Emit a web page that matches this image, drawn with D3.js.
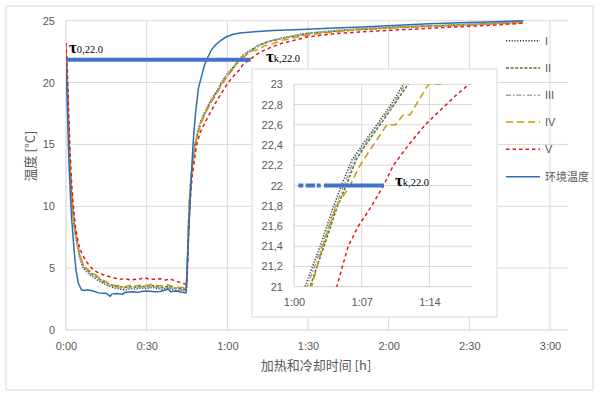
<!DOCTYPE html>
<html><head><meta charset="utf-8">
<script src="https://cdn.jsdelivr.net/npm/d3@7/dist/d3.min.js"></script>
<style>body{margin:0;background:#fff} svg text{font-family:"Liberation Sans",Arial,sans-serif}</style>
</head><body><svg id="c" width="600" height="395"></svg>
<script>
// ---------- data (time in minutes, temperature in °C) ----------
const seriesNames = ["I","II","III","IV","V","环境温度"];
const sI = [[0,22.9],[0.5,20.2],[1,16.3],[1.5,13.2],[2.2,10.5],[3,8.5],[3.7,7.4],[5,5.9],[6.4,5.0],[8,4.6],[10,4.3],[12,4.0],[14,3.75],[16,3.55],[18,3.4],[20,3.3],[22,3.25],[24,3.35],[26,3.3],[28,3.4],[30,3.35],[32,3.45],[34,3.35],[36,3.3],[38,3.4],[40,3.25],[42,3.2],[44.8,3.2],
 [45.2,6],[45.6,9],[46,10.9],[46.5,12.4],[47,13.4],[48,15.1],[49,16],[50,16.8],[52,17.8],[54,18.6],[56,19.3],[57.5,19.9],[59,20.4],[60,20.7],[61.14,21.0],[62.7,21.4],[64.07,21.79],[64.9,22.0],[65.97,22.25],[67.2,22.42],[68.56,22.6],[70.1,22.81],[71.3,23.0],[75,23.3],[80,23.6],[90,24.0],[100,24.2],[110,24.35],[120,24.45],[130,24.55],[140,24.62],[150,24.7],[160,24.8],[170,24.92]];
const sII = [[0,22.8],[0.5,20.0],[1,16.1],[1.5,13.1],[2.2,10.5],[3,8.6],[3.7,7.6],[5,6.1],[6.4,5.2],[8,4.8],[10,4.5],[12,4.2],[14,3.9],[16,3.7],[18,3.55],[20,3.5],[22,3.45],[24,3.5],[26,3.45],[28,3.55],[30,3.5],[32,3.6],[34,3.5],[36,3.45],[38,3.55],[40,3.4],[42,3.35],[44.8,3.3],
 [45.2,5.8],[45.6,8.8],[46,10.7],[46.5,12.2],[47,13.3],[48,15.0],[49,15.9],[50,16.7],[52,17.7],[54,18.5],[56,19.2],[57.8,19.9],[59.3,20.4],[60.4,20.7],[61.66,21.0],[63.1,21.4],[64.5,21.8],[65.4,22.0],[66.4,22.25],[67.6,22.43],[68.9,22.6],[70.5,22.82],[71.8,23.0],[75,23.28],[80,23.55],[90,23.95],[100,24.15],[110,24.3],[120,24.42],[130,24.52],[140,24.6],[150,24.68],[160,24.78],[170,24.9]];
const sIII = [[0,23.0],[0.5,20.1],[1,16.2],[1.5,13.1],[2.2,10.5],[3,8.5],[3.7,7.5],[5,6.0],[6.4,5.1],[8,4.7],[10,4.4],[12,4.1],[14,3.82],[16,3.62],[18,3.47],[20,3.4],[22,3.35],[24,3.42],[26,3.38],[28,3.48],[30,3.42],[32,3.52],[34,3.42],[36,3.38],[38,3.47],[40,3.33],[42,3.28],[44.8,3.25],
 [45.2,5.9],[45.6,8.9],[46,10.8],[46.5,12.3],[47,13.35],[48,15.05],[49,15.95],[50,16.75],[52,17.75],[54,18.55],[56,19.25],[57.6,19.9],[59.1,20.4],[60.2,20.7],[61.35,21.0],[62.9,21.4],[64.3,21.8],[65.15,22.0],[66.2,22.25],[67.4,22.43],[68.7,22.6],[70.3,22.81],[71.5,23.0],[75,23.3],[80,23.58],[90,23.98],[100,24.18],[110,24.33],[120,24.44],[130,24.54],[140,24.61],[150,24.69],[160,24.79],[170,24.91]];
const sIV = [[0,22.7],[0.5,20.0],[1,16.2],[1.5,13.2],[2.2,10.6],[3,8.8],[3.7,7.8],[5,6.2],[6.4,5.25],[8,4.9],[10.2,4.58],[12,4.3],[13.9,4.04],[15.5,3.8],[17.6,3.64],[20,3.55],[22,3.5],[24,3.62],[26,3.55],[28,3.65],[30,3.6],[32,3.7],[34,3.6],[36,3.55],[38,3.65],[40,3.5],[42,3.45],[44.8,3.4],
 [45.2,5.7],[45.6,8.6],[46,10.6],[46.5,12.1],[47,13.2],[48,14.9],[49,15.8],[50,16.6],[52,17.6],[54,18.4],[56,19.1],[58,19.85],[59.5,20.35],[60.6,20.7],[61.83,21.0],[62.97,21.4],[63.66,21.6],[64.4,21.8],[65.8,22.0],[66.83,22.2],[68.2,22.4],[69.6,22.6],[70.5,22.6],[71.3,22.7],[72,22.7],[73.9,23.0],[75.1,23.0],[80,23.4],[90,23.85],[100,24.1],[110,24.28],[120,24.4],[130,24.5],[140,24.57],[150,24.65],[160,24.75],[170,24.85]];
const sV = [[0,23.2],[0.5,21],[1,17.5],[1.5,14.5],[2,12.2],[2.5,10.6],[3.5,8.3],[4.6,7.0],[6,6.1],[7.7,5.5],[9.5,5.0],[11.4,4.7],[14,4.45],[16.4,4.3],[18,4.2],[20,4.1],[22,4.15],[24,4.05],[26,4.1],[28,4.15],[29,4.24],[31,4.1],[33,4.1],[35,4.15],[37,4.05],[39,4.1],[41,3.95],[43.6,3.75],[44.9,3.7],
 [45.3,5.5],[45.7,8.3],[46,9.8],[46.5,11.4],[47,12.5],[48,14.1],[48.6,15.0],[50,16.0],[52,16.9],[53.5,17.5],[56,18.5],[58,19.2],[60.3,20.0],[62,20.45],[63.2,20.75],[64.42,21.0],[65.6,21.4],[66.66,21.6],[68.04,21.8],[69.25,22.0],[70.28,22.2],[71.83,22.4],[73.56,22.6],[76.84,22.9],[80,23.15],[90,23.7],[100,23.95],[110,24.1],[120,24.22],[130,24.32],[140,24.45],[150,24.55],[160,24.65],[170,24.8]];
const sAmb = [[0,21.4],[0.5,18],[1,14],[1.7,10.6],[2.1,9],[3,6.5],[3.7,4.85],[4.6,3.78],[5.8,3.23],[7,3.2],[8,3.25],[10.2,3.15],[12,3.0],[15,2.95],[16.4,2.72],[17,2.9],[19,2.95],[21,2.9],[22,3.05],[25,3.1],[27,3.05],[28,3.12],[30,3.15],[33,3.1],[35,3.12],[38,3.3],[39,3.1],[41,3.15],[43,3.05],[44.6,3.0],
 [45.1,5.1],[45.6,7.8],[46.1,10],[46.7,12.8],[47.3,15.2],[48.2,17.6],[49.3,19.6],[50.4,20.5],[51.5,21.4],[52.5,21.95],[54,22.6],[55.4,23.0],[57.5,23.4],[59.7,23.7],[62,23.88],[64.7,24.0],[70,24.1],[77,24.2],[89.5,24.3],[100,24.4],[110,24.5],[120,24.6],[135,24.75],[150,24.85],[160,24.92],[170,25.0]];
const tauMain = [[0,21.85],[68.7,21.85]];
const tauInset = [[60,22],[69.3,22]];
const xTicksMain = [0,30,60,90,120,150,180];
const yTicksMain = [0,5,10,15,20,25];
const xTicksInset = [60,67,74];
const yTicksInset = [21,21.2,21.4,21.6,21.8,22,22.2,22.4,22.6,22.8,23];

// ---------- styles ----------
const allSeries = [sI,sII,sIII,sIV,sV,sAmb];
const colors = ["#3a3a3a","#4a7a2a","#a5a5a5","#c99a06","#e8161b","#2e6db4"];
const dashes = ["1.2,1.6","3,1.6","5,2,1.5,2","7,4","3.5,3",null];
const txt = "#595959", grid = "#d9d9d9";

const svg = d3.select("#c");
svg.append("rect").attr("x",6).attr("y",6).attr("width",587).attr("height",384)
  .attr("fill","#fff").attr("stroke","#d9d9d9");

// ---------- main chart ----------
const x = d3.scaleLinear().domain([0,186.7]).range([66,568]);
const y = d3.scaleLinear().domain([0,25]).range([330,20.7]);
const fmtHM = m => Math.floor(m/60)+":"+String(Math.round(m%60)).padStart(2,"0");

const g = svg.append("g");
g.selectAll(".hg").data(yTicksMain.slice(1)).enter().append("line")
  .attr("x1",x(0)).attr("x2",x.range()[1]).attr("y1",d=>y(d)).attr("y2",d=>y(d)).attr("stroke",grid);
g.selectAll(".vg").data(xTicksMain.slice(1)).enter().append("line")
  .attr("x1",d=>x(d)).attr("x2",d=>x(d)).attr("y1",y(0)).attr("y2",y(25)).attr("stroke",grid);
g.append("line").attr("x1",x(0)).attr("x2",x(0)).attr("y1",y(0)).attr("y2",y(25)).attr("stroke","#cfcfcf");
g.append("line").attr("x1",x(0)).attr("x2",x.range()[1]).attr("y1",y(0)).attr("y2",y(0)).attr("stroke","#cfcfcf");

const ax = g.append("g").attr("transform",`translate(0,${y(0)})`)
  .call(d3.axisBottom(x).tickValues(xTicksMain).tickFormat(fmtHM).tickSize(0).tickPadding(12));
const ay = g.append("g").attr("transform",`translate(${x(0)},0)`)
  .call(d3.axisLeft(y).tickValues(yTicksMain).tickSize(0).tickPadding(11));
[ax,ay].forEach(a=>{a.select(".domain").remove();a.selectAll("text").attr("fill",txt).style("font-size","11px").style("font-family","Liberation Sans, Arial, sans-serif");});

svg.append("clipPath").attr("id","cm").append("rect").attr("x",66).attr("y",18).attr("width",502).attr("height",313);
const line = d3.line().x(d=>x(d[0])).y(d=>y(d[1]));
const gl = g.append("g").attr("clip-path","url(#cm)");
allSeries.forEach((s,i)=>{
  gl.append("path").datum(s).attr("d",line).attr("fill","none").attr("stroke",colors[i])
    .attr("stroke-width",1.5).attr("stroke-dasharray",dashes[i]);
});
gl.append("path").datum(tauMain).attr("d",line).attr("fill","none").attr("stroke","#4472c4").attr("stroke-width",4);

function tau(sel,xp,yp,sub){
  const t = sel.append("text").attr("x",xp).attr("y",yp).style("font-family","'Liberation Serif', 'DejaVu Serif', serif").attr("fill","#000");
  t.append("tspan").text("τ").style("font-size","17px").style("font-weight","bold");
  t.append("tspan").text(sub).style("font-size","10.5px").style("font-weight","normal");
}
tau(g,69,53,"0,22.0");
tau(g,266,62,"k,22.0");

// axis titles
svg.append("text").attr("x",316).attr("y",370).attr("text-anchor","middle").attr("fill",txt)
  .style("font-family","'Noto Sans CJK SC', sans-serif").style("font-size","13px").text("加热和冷却时间 [h]");
svg.append("text").attr("transform","translate(35,156) rotate(-90)").attr("text-anchor","middle").attr("fill",txt)
  .style("font-family","'Noto Sans CJK SC', sans-serif").style("font-size","13px").text("温度 [°C]");

// legend
const legY = [40.7,68,95.3,122,149.3,176.7];
seriesNames.forEach((n,i)=>{
  svg.append("line").attr("x1",506).attr("x2",540).attr("y1",legY[i]).attr("y2",legY[i])
    .attr("stroke",colors[i]).attr("stroke-width",1.5).attr("stroke-dasharray",dashes[i]);
  svg.append("text").attr("x",545).attr("y",legY[i]).attr("dy","0.35em").attr("fill",txt)
    .style("font-size","11px").style("font-family", i===5?"'Noto Sans CJK SC', sans-serif":"'Liberation Sans', Arial, sans-serif").text(n);
});

// ---------- inset ----------
svg.append("rect").attr("x",252).attr("y",69).attr("width",245).attr("height",248).attr("fill","#fff").attr("stroke","#d9d9d9");
const ix = d3.scaleLinear().domain([60,78.4]).range([294,472]);
const iy = d3.scaleLinear().domain([21,23]).range([286.7,84.3]);
const gi = svg.append("g");
gi.selectAll(".ihg").data(yTicksInset.slice(1)).enter().append("line")
  .attr("x1",ix(60)).attr("x2",ix.range()[1]).attr("y1",d=>iy(d)).attr("y2",d=>iy(d)).attr("stroke",grid);
gi.selectAll(".ivg").data(xTicksInset.slice(1)).enter().append("line")
  .attr("x1",d=>ix(d)).attr("x2",d=>ix(d)).attr("y1",iy(21)).attr("y2",iy(23)).attr("stroke",grid);
gi.append("line").attr("x1",ix(60)).attr("x2",ix(60)).attr("y1",iy(21)).attr("y2",iy(23)).attr("stroke","#cfcfcf");
gi.append("line").attr("x1",ix(60)).attr("x2",ix.range()[1]).attr("y1",iy(21)).attr("y2",iy(21)).attr("stroke","#cfcfcf");
const fmtC = v => { const r = Math.round(v*10)/10; return Number.isInteger(r) ? String(r) : r.toFixed(1).replace(".",","); };
const iax = gi.append("g").attr("transform",`translate(0,${iy(21)})`)
  .call(d3.axisBottom(ix).tickValues(xTicksInset).tickFormat(fmtHM).tickSize(0).tickPadding(12));
const iay = gi.append("g").attr("transform",`translate(${ix(60)},0)`)
  .call(d3.axisLeft(iy).tickValues(yTicksInset).tickFormat(fmtC).tickSize(0).tickPadding(11));
[iax,iay].forEach(a=>{a.select(".domain").remove();a.selectAll("text").attr("fill",txt).style("font-size","11px").style("font-family","Liberation Sans, Arial, sans-serif");});

svg.append("clipPath").attr("id","ci").append("rect").attr("x",294).attr("y",84.3).attr("width",178).attr("height",202.4);
const iline = d3.line().x(d=>ix(d[0])).y(d=>iy(d[1]));
const gil = gi.append("g").attr("clip-path","url(#ci)");
allSeries.slice(0,5).forEach((s,i)=>{
  gil.append("path").datum(s).attr("d",iline).attr("fill","none").attr("stroke",colors[i])
    .attr("stroke-width",1.5).attr("stroke-dasharray",dashes[i]);
});
gil.append("path").datum(tauInset).attr("d",iline).attr("fill","none").attr("stroke","#4472c4").attr("stroke-width",4)
  .attr("stroke-dasharray","0,4.3,5,2.4,9.3,1.7,4,3.3,300");
tau(gi,395,186,"k,22.0");
</script></body></html>
